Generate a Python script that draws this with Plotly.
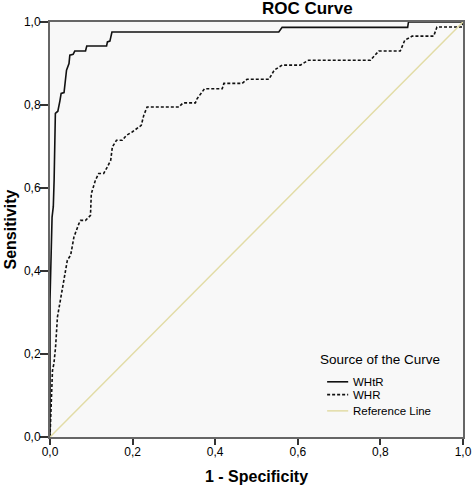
import plotly.graph_objects as go

# WHtR (solid) ROC points
whtr_fpr = [0, 0, 0.003, 0.005, 0.008, 0.010, 0.013, 0.019, 0.024, 0.027, 0.034, 0.036, 0.040, 0.046,
            0.048, 0.056, 0.060, 0.086, 0.089, 0.137, 0.139, 0.145, 0.150, 0.554, 0.562, 0.866, 0.868, 1.0]
whtr_tpr = [0, 0.33, 0.45, 0.53, 0.555, 0.62, 0.78, 0.785, 0.81, 0.828, 0.83, 0.852, 0.884, 0.90,
            0.92, 0.922, 0.930, 0.930, 0.942, 0.942, 0.952, 0.954, 0.976, 0.976, 0.987, 0.987, 1.0, 1.0]

# WHR (dashed) ROC points
whr_fpr = [0, 0.003, 0.006, 0.0095, 0.0135, 0.018, 0.026, 0.034, 0.042, 0.050, 0.054, 0.058, 0.070, 0.074,
           0.086, 0.098, 0.100, 0.110, 0.118, 0.130, 0.139, 0.147, 0.151, 0.161, 0.175, 0.185, 0.199,
           0.211, 0.221, 0.227, 0.235, 0.312, 0.322, 0.352, 0.356, 0.374, 0.417, 0.421, 0.465, 0.477,
           0.530, 0.543, 0.562, 0.606, 0.626, 0.776, 0.796, 0.848, 0.859, 0.877, 0.929, 0.937, 0.998, 1.0]
whr_tpr = [0, 0.10, 0.16, 0.177, 0.217, 0.289, 0.335, 0.386, 0.426, 0.438, 0.458, 0.482, 0.514, 0.522,
           0.522, 0.534, 0.586, 0.619, 0.635, 0.635, 0.651, 0.667, 0.699, 0.715, 0.715, 0.727, 0.735,
           0.743, 0.751, 0.775, 0.795, 0.795, 0.805, 0.805, 0.815, 0.839, 0.839, 0.852, 0.852, 0.862,
           0.862, 0.884, 0.896, 0.896, 0.908, 0.908, 0.930, 0.930, 0.956, 0.966, 0.966, 0.988, 0.988, 1.0]

ref_x = [0, 1]
ref_y = [0, 1]

tick_vals = [0, 0.2, 0.4, 0.6, 0.8, 1.0]
tick_text = ["0,0", "0,2", "0,4", "0,6", "0,8", "1,0"]

series_names = ["WHtR", "WHR", "Reference Line"]
legend_title = "Source of the Curve"

FONT = "Arial, Liberation Sans, sans-serif"
DARK = "#111111"
REF_COLOR = "#e2dca6"
styles = [dict(color=DARK, width=1.6),
          dict(color=DARK, width=1.6, dash="3px,2px"),
          dict(color=REF_COLOR, width=1.5)]

fig = go.Figure()
for xs, ys, name, st in zip([whtr_fpr, whr_fpr, ref_x], [whtr_tpr, whr_tpr, ref_y], series_names, styles):
    fig.add_trace(go.Scatter(x=xs, y=ys, mode="lines", name=name, line=st, showlegend=False,
                             hoverinfo="skip"))

axis_common = dict(range=[0, 1], tickvals=tick_vals, ticktext=tick_text, automargin=False,
                   showgrid=False, zeroline=False, ticks="outside",
                   tickcolor="#333333", tickwidth=1.5, ticklabelstandoff=-3,
                   showline=True, linecolor="#666666", linewidth=2, mirror=True,
                   tickfont=dict(family=FONT, size=12, color="#000000"))

# manual legend (inside plot area, lower right)
leg_x0, leg_x1, leg_tx = 0.671, 0.722, 0.728
leg_ys = [0.133, 0.102, 0.063]
shapes = []
annotations = [dict(text=legend_title, xref="paper", yref="paper", x=0.649, y=0.186,
                    xanchor="left", yanchor="middle", showarrow=False,
                    font=dict(family=FONT, size=13.5, color="#000000"))]
for name, st, ly in zip(series_names, styles, leg_ys):
    shapes.append(dict(type="line", xref="paper", yref="paper", x0=leg_x0, x1=leg_x1, y0=ly, y1=ly,
                       line=st))
    annotations.append(dict(text=name, xref="paper", yref="paper", x=leg_tx, y=ly,
                            xanchor="left", yanchor="middle", showarrow=False,
                            font=dict(family=FONT, size=11.5, color="#000000")))

fig.update_layout(
    width=472, height=487,
    margin=dict(l=50, r=9, t=22, b=50),
    paper_bgcolor="white", plot_bgcolor="#f8f8f8",
    title=dict(text="<b>ROC Curve</b>", x=0.651, xanchor="center", y=0.983, yanchor="middle",
               font=dict(family=FONT, size=17, color="#000000")),
    xaxis=dict(title=dict(text="<b>1 - Specificity</b>", standoff=12,
                          font=dict(family=FONT, size=16, color="#000000")),
               ticklen=6, **axis_common),
    yaxis=dict(title=dict(text="<b>Sensitivity</b>", standoff=3,
                          font=dict(family=FONT, size=16, color="#000000")),
               ticklen=8, **axis_common),
    shapes=shapes,
    annotations=annotations,
    showlegend=False,
    hovermode=False,
)

fig.write_html("out.html", config={"displayModeBar": False},
               post_script="document.body.style.margin='0';document.body.style.overflow='hidden';")
